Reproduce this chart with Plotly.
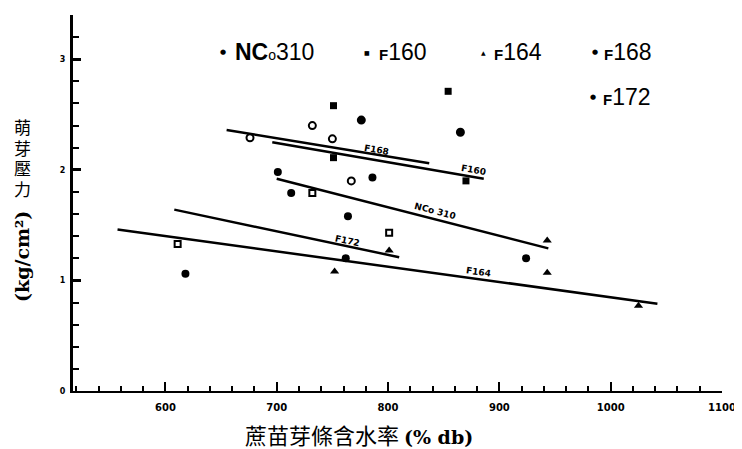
import plotly.graph_objects as go

# ---- data ----
nco310_x = [701, 713, 764, 786, 924, 762, 618]
nco310_y = [1.98, 1.79, 1.58, 1.93, 1.20, 1.20, 1.06]

f160_x = [751, 751, 870, 854]
f160_y = [2.58, 2.11, 1.90, 2.71]

f164_x = [752, 801, 943, 943, 1025]
f164_y = [1.08, 1.27, 1.36, 1.07, 0.77]

f168_x = [676, 732, 750, 767, 776, 865]
f168_y = [2.29, 2.40, 2.28, 1.90, 2.45, 2.34]
f168_sym = ["circle-open", "circle-open", "circle-open", "circle-open", "circle", "circle"]

f172_x = [611, 732, 801]
f172_y = [1.33, 1.79, 1.43]

# regression line end points
fit_names = ["NCo 310", "F160", "F164", "F168", "F172"]
fit_x = {"NCo 310": [700, 944], "F160": [696, 886], "F164": [557, 1042],
         "F168": [655, 837], "F172": [608, 810]}
fit_y = {"NCo 310": [1.92, 1.29], "F160": [2.25, 1.92], "F164": [1.46, 0.79],
         "F168": [2.36, 2.06], "F172": [1.64, 1.21]}
# line-label positions (data units) and angles
lab_x = {"NCo 310": 842, "F160": 877, "F164": 881, "F168": 790, "F172": 764}
lab_y = {"NCo 310": 1.63, "F160": 1.995, "F164": 1.08, "F168": 2.18, "F172": 1.36}
lab_ang = {"NCo 310": 14.5, "F160": 9.7, "F164": 7.8, "F168": 9.6, "F172": 12}

x_title_cjk = "蔗苗芽條含水率"
x_title_unit = "(% db)"
y_title_cjk = ["萌", "芽", "壓", "力"]
y_title_unit = "(kg/cm²)"

# the page body has an 8px margin; size the figure so the plot lands where it should
OFF = 8
W, H = 742 - OFF, 449 - OFF
PL, PR, PT, PB = 73, 722, 15, 391          # plot area in window pixels
L, R, T, B = PL - OFF, 742 - PR, PT - OFF, 449 - PB

fig = go.Figure()

for n in fit_names:
    fig.add_trace(go.Scatter(x=fit_x[n], y=fit_y[n], mode="lines",
                             line=dict(color="black", width=2.5), showlegend=False,
                             hoverinfo="skip"))

fig.add_trace(go.Scatter(x=nco310_x, y=nco310_y, mode="markers", name="NCo310",
                         marker=dict(symbol="circle", size=8, color="black")))
fig.add_trace(go.Scatter(x=f160_x, y=f160_y, mode="markers", name="F160",
                         marker=dict(symbol="square", size=7, color="black")))
fig.add_trace(go.Scatter(x=f164_x, y=f164_y, mode="markers", name="F164",
                         marker=dict(symbol="triangle-up", size=8, color="black")))
fig.add_trace(go.Scatter(x=f168_x, y=f168_y, mode="markers", name="F168",
                         marker=dict(symbol=f168_sym, size=7, color="black",
                                     line=dict(color="black", width=2))))
fig.add_trace(go.Scatter(x=f172_x, y=f172_y, mode="markers", name="F172",
                         marker=dict(symbol="square-open", size=6, color="black",
                                     line=dict(color="black", width=2))))

ann = []
for n in fit_names:
    ann.append(dict(x=lab_x[n], y=lab_y[n], xref="x", yref="y", text="<b>%s</b>" % n,
                    showarrow=False, textangle=lab_ang[n],
                    font=dict(family="DejaVu Sans", size=9, color="black")))

def px_to_paper(px, py):
    return (px - PL) / (PR - PL), (PB - py) / (PB - PT)

legend_items = [
    ("●", "<b>NC</b><span style='font-size:14px'>o</span>310", 223, 233, 52, 7),
    ("■", "<b><span style='font-size:15px'>F</span></b>160", 367, 377, 52, 6),
    ("▲", "<b><span style='font-size:15px'>F</span></b>164", 483, 492, 52, 6),
    ("●", "<b><span style='font-size:15px'>F</span></b>168", 595, 602, 52, 7),
    ("●", "<b><span style='font-size:15px'>F</span></b>172", 593, 601, 97, 7),
]
for sym, txt, mx, tx, ty, ms in legend_items:
    a, b = px_to_paper(mx, ty)
    ann.append(dict(x=a, y=b, xref="paper", yref="paper", text=sym, showarrow=False,
                    xanchor="center", yanchor="middle",
                    font=dict(family="DejaVu Sans", size=ms, color="black")))
    a, b = px_to_paper(tx, ty)
    ann.append(dict(x=a, y=b, xref="paper", yref="paper", text=txt, showarrow=False,
                    xanchor="left", yanchor="middle",
                    font=dict(family="Liberation Sans", size=23, color="black")))

# axis titles
a, b = px_to_paper(359, 434)
ann.append(dict(x=a, y=b, xref="paper", yref="paper",
                text=x_title_cjk + " <b><span style='font-family:DejaVu Serif;font-size:19px'>"
                     + x_title_unit + "</span></b>",
                showarrow=False, xanchor="center", yanchor="middle",
                font=dict(family="Noto Sans CJK TC", size=22, color="black")))
for i, ch in enumerate(y_title_cjk):
    a, b = px_to_paper(22, 128 + i * 20.7)
    ann.append(dict(x=a, y=b, xref="paper", yref="paper", text=ch,
                    showarrow=False, xanchor="center", yanchor="middle", borderpad=0,
                    font=dict(family="DejaVu Sans, Noto Sans CJK TC", size=17,
                              color="black")))
a, b = px_to_paper(22, 257)
ann.append(dict(x=a, y=b, xref="paper", yref="paper", text="<b>" + y_title_unit + "</b>",
                showarrow=False, xanchor="center", yanchor="middle", textangle=-90,
                font=dict(family="DejaVu Serif", size=19, color="black")))

fig.update_layout(
    width=W, height=H, margin=dict(l=L, r=R, t=T, b=B, autoexpand=False),
    paper_bgcolor="white", plot_bgcolor="white", showlegend=False,
    annotations=ann,
    xaxis=dict(range=[517, 1100], dtick=100, tick0=0, ticks="inside", ticklen=9,
               tickwidth=2, tickcolor="black", showline=True, linewidth=2,
               linecolor="black", showgrid=False, zeroline=False, automargin=False,
               minor=dict(dtick=20, ticks="inside", ticklen=5, tickwidth=1.5,
                          tickcolor="black", showgrid=False),
               tickfont=dict(family="DejaVu Sans", size=10, color="black", weight="bold"),
               ticklabelstandoff=6),
    yaxis=dict(range=[0, 3.4], dtick=1, tick0=0, ticks="inside", ticklen=8,
               tickwidth=2.5, tickcolor="black", showline=True, linewidth=3,
               linecolor="black", showgrid=False, zeroline=False, automargin=False,
               minor=dict(dtick=0.2, ticks="inside", ticklen=6, tickwidth=1.5,
                          tickcolor="black", showgrid=False),
               tickfont=dict(family="DejaVu Sans", size=8, color="black", weight="bold"),
               ticklabelstandoff=3),
)

fig.write_html("out.html")
